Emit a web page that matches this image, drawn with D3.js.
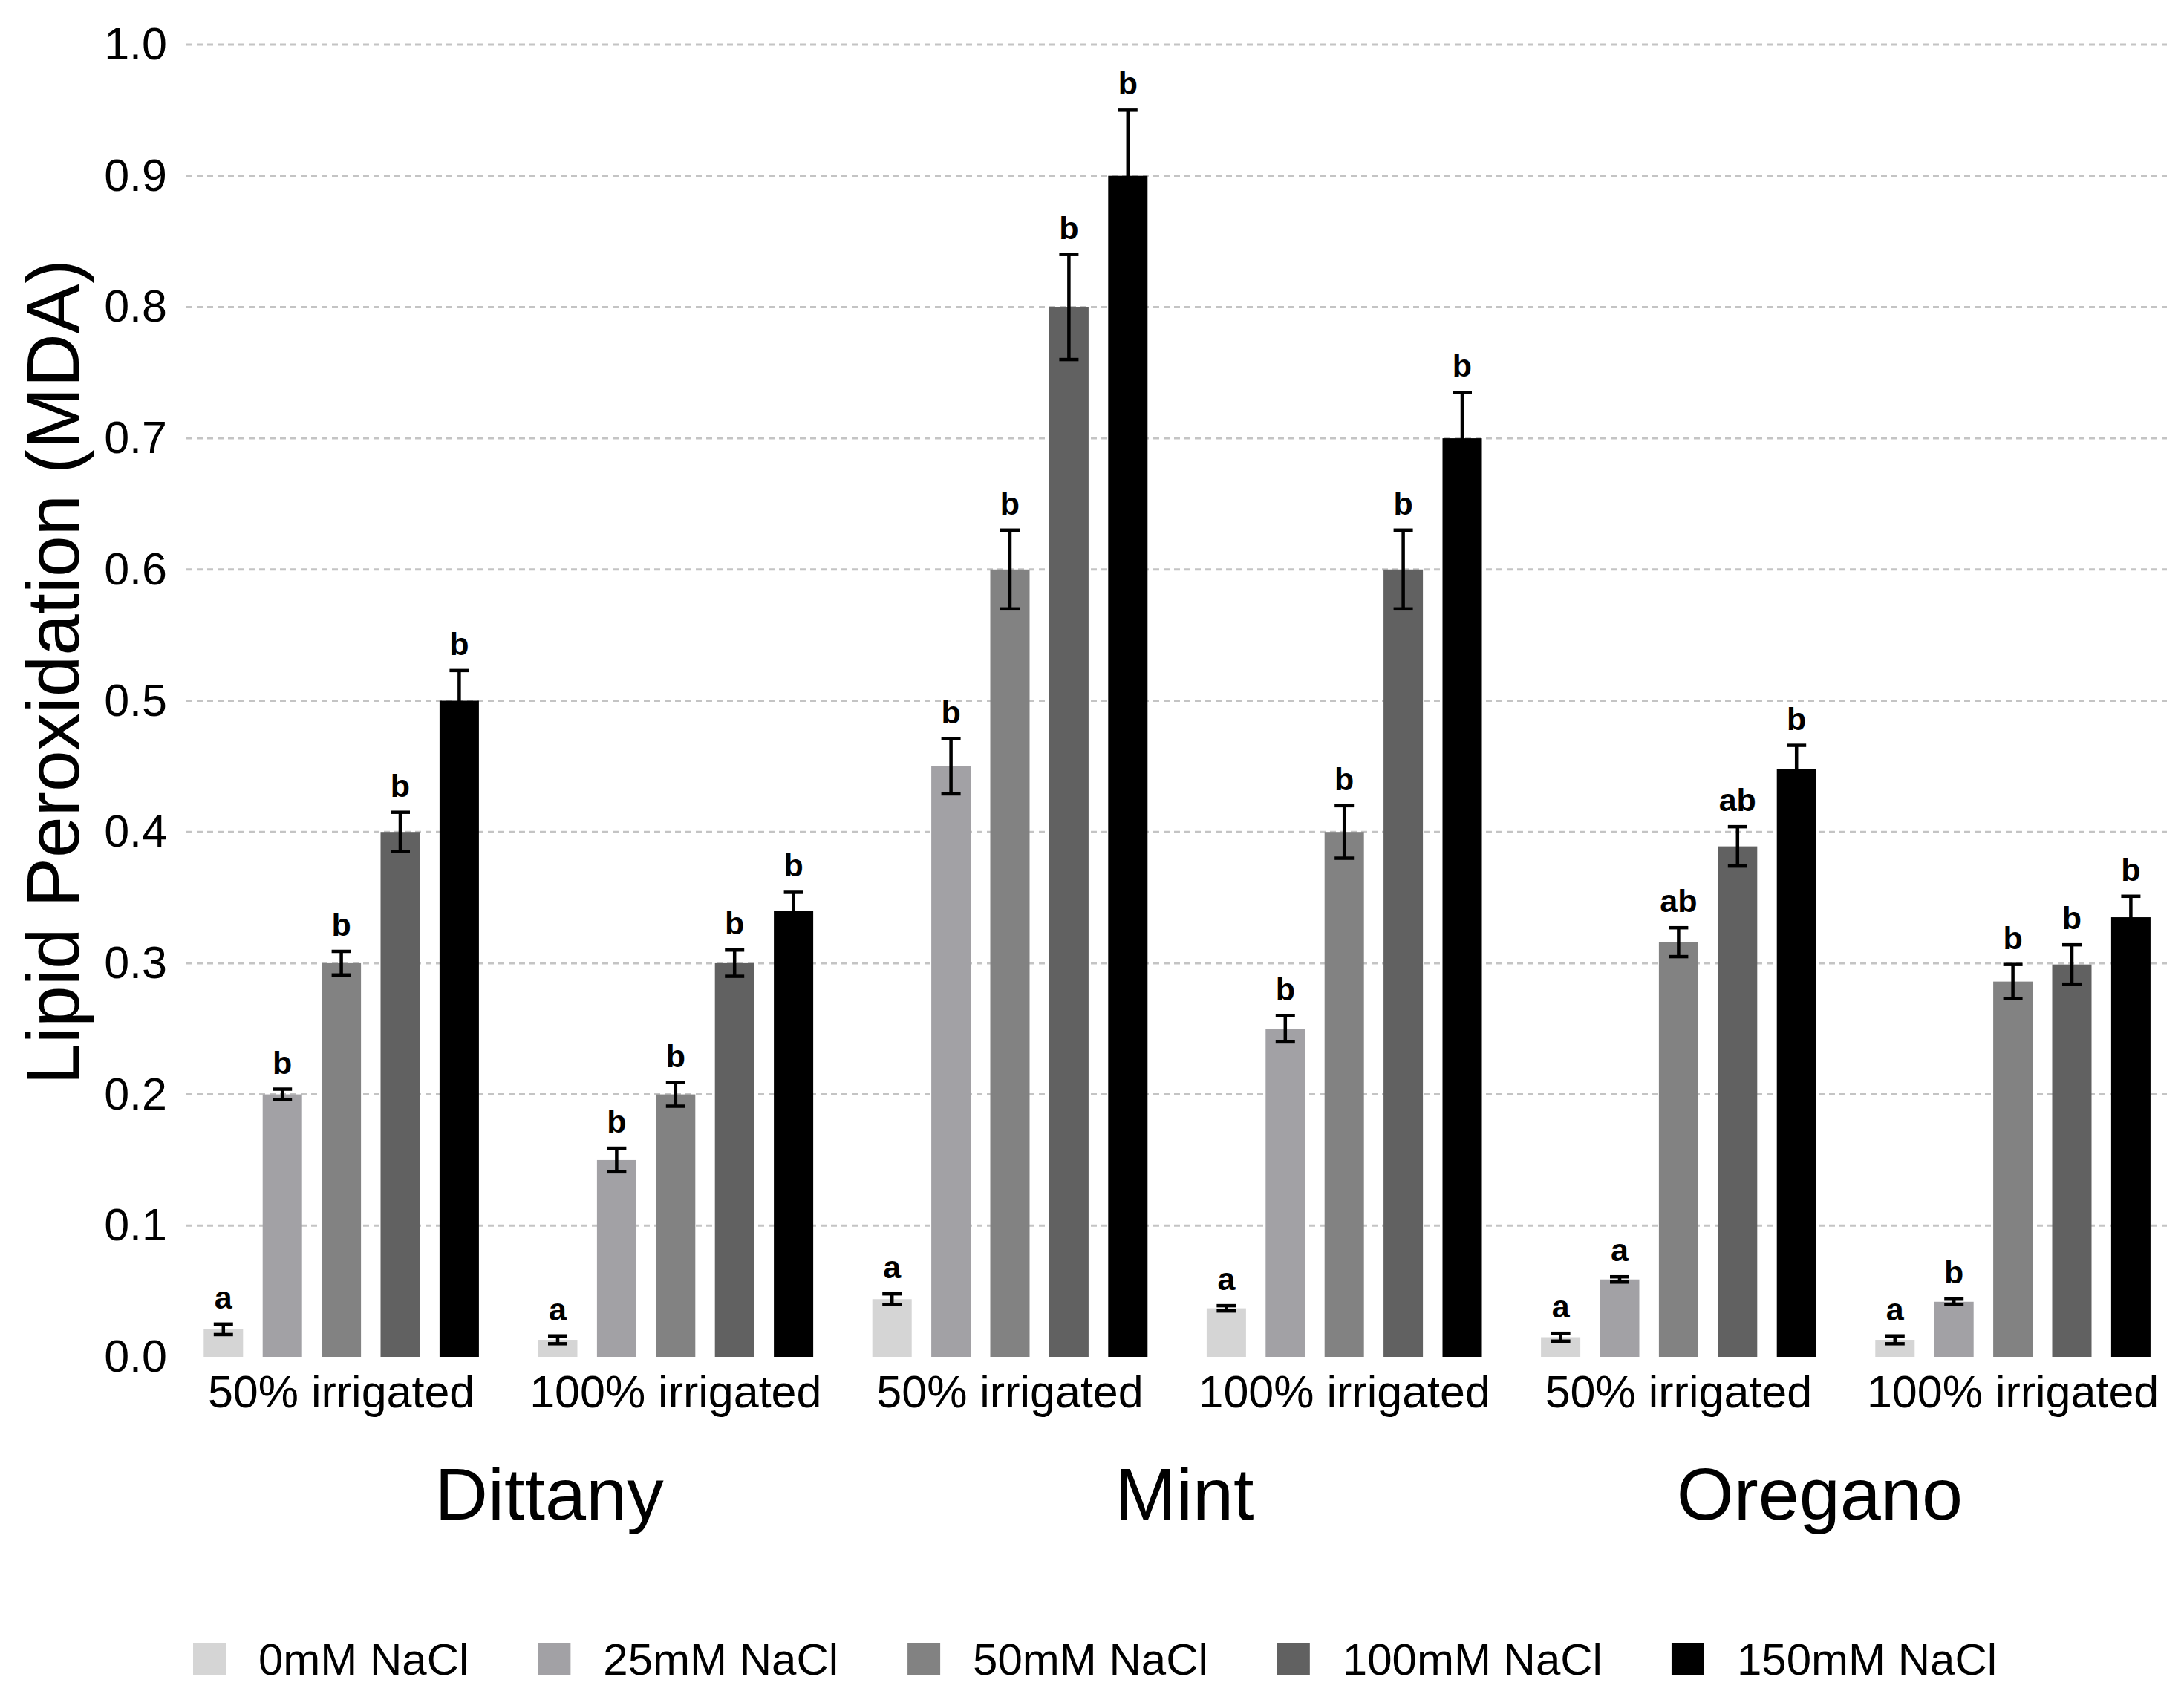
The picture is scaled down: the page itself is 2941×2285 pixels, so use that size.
<!DOCTYPE html>
<html>
<head>
<meta charset="utf-8">
<script src="https://cdn.jsdelivr.net/npm/d3@7"></script>
<style>
  body { margin: 0; background: #fff; }
  text { font-family: "Liberation Sans", Arial, Helvetica, sans-serif; }
</style>
</head>
<body>
<svg class="mda-chart"></svg>
<script>
"use strict";

// data
var species = ['Dittany', 'Mint', 'Oregano'];
var irrigation = ['50% irrigated', '100% irrigated'];
var salts = ['0mM NaCl', '25mM NaCl', '50mM NaCl', '100mM NaCl', '150mM NaCl'];
var saltColors = ['#d5d5d5', '#a2a1a5', '#828282', '#616161', '#000000'];
var yTicks = [0, 0.1, 0.2, 0.3, 0.4, 0.5, 0.6, 0.7, 0.8, 0.9, 1.0];

// one row per species x irrigation, in salts order
var meanValues = [
  [0.021, 0.200, 0.300, 0.400, 0.500],
  [0.013, 0.150, 0.200, 0.300, 0.340],
  [0.044, 0.450, 0.600, 0.800, 0.900],
  [0.037, 0.250, 0.400, 0.600, 0.700],
  [0.015, 0.059, 0.316, 0.389, 0.448],
  [0.013, 0.042, 0.286, 0.299, 0.335]
];
var errorValues = [
  [0.004, 0.004, 0.009, 0.015, 0.023],
  [0.003, 0.009, 0.009, 0.010, 0.014],
  [0.004, 0.021, 0.030, 0.040, 0.050],
  [0.002, 0.010, 0.020, 0.030, 0.035],
  [0.003, 0.002, 0.011, 0.015, 0.018],
  [0.003, 0.002, 0.013, 0.015, 0.016]
];
var letterLabels = [
  ['a', 'b', 'b', 'b', 'b'],
  ['a', 'b', 'b', 'b', 'b'],
  ['a', 'b', 'b', 'b', 'b'],
  ['a', 'b', 'b', 'b', 'b'],
  ['a', 'a', 'ab', 'ab', 'b'],
  ['a', 'b', 'b', 'b', 'b']
];

var W = 2941, H = 2285;
var svg = d3.select('.mda-chart')
  .attr('width', W)
  .attr('height', H);

// group keys like "Dittany|50% irrigated"
var groups = [];
species.forEach(function(s){
  irrigation.forEach(function(ir){ groups.push(s + '|' + ir); });
});

var rows = [];
groups.forEach(function(g, gi){
  salts.forEach(function(salt, si){
    rows.push({
      group: g,
      salt: salt,
      value: meanValues[gi][si],
      err: errorValues[gi][si],
      letter: letterLabels[gi][si]
    });
  });
});

var y = d3.scaleLinear()
  .domain([0, 1])
  .range([1827, 60]);

var x0 = d3.scaleBand()
  .domain(groups)
  .range([234.5, 2935.7])
  .paddingInner(0.1768)
  .paddingOuter(0.0884);

var x1 = d3.scaleBand()
  .domain(salts)
  .range([0, x0.bandwidth()])
  .paddingInner(0.3325);

var xSpecies = d3.scaleBand()
  .domain(species)
  .range([312, 2878]);

var color = d3.scaleOrdinal()
  .domain(salts)
  .range(saltColors);

var gridLeft = 251, gridRight = 2918;

// dashed grid, none at zero
svg.append('g').selectAll('line')
  .data(yTicks.filter(function(t){ return t > 0; }))
  .enter().append('line')
    .attr('x1', gridLeft)
    .attr('x2', gridRight)
    .attr('y1', function(d){ return y(d); })
    .attr('y2', function(d){ return y(d); })
    .attr('stroke', '#c4c4c4')
    .attr('stroke-width', 3)
    .attr('stroke-dasharray', '8,6');

var yAxis = d3.axisLeft(y)
  .tickValues(yTicks)
  .tickFormat(d3.format('.1f'))
  .tickSize(0)
  .tickPadding(26);

svg.append('g')
  .attr('class', 'y-axis')
  .attr('transform', 'translate(' + gridLeft + ',0)')
  .call(yAxis);

svg.select('.y-axis .domain').remove();
svg.selectAll('.y-axis text')
  .attr('font-size', 61)
  .attr('fill', '#000')
  .style('font-family', '"Liberation Sans", Arial, sans-serif');

svg.append('text')
  .attr('transform', 'translate(106,905) rotate(-90)')
  .attr('text-anchor', 'middle')
  .attr('font-size', 100)
  .text('Lipid Peroxidation (MDA)');

var chart = svg.append('g');

chart.selectAll('.bar')
  .data(rows)
  .enter().append('rect')
    .attr('class', 'bar')
    .attr('x', function(d){ return x0(d.group) + x1(d.salt); })
    .attr('y', function(d){ return y(d.value); })
    .attr('width', x1.bandwidth())
    .attr('height', function(d){ return y(0) - y(d.value); })
    .style('fill', function(d){ return color(d.salt); });

var capHalf = 13;
var errs = chart.selectAll('.err')
  .data(rows)
  .enter().append('g')
    .attr('class', 'err')
    .attr('transform', function(d){
      return 'translate(' + (x0(d.group) + x1(d.salt) + x1.bandwidth() / 2) + ',0)';
    });

errs.append('line')
  .attr('y1', function(d){ return y(d.value + d.err); })
  .attr('y2', function(d){ return y(d.value - d.err); });
errs.append('line')
  .attr('x1', -capHalf).attr('x2', capHalf)
  .attr('y1', function(d){ return y(d.value + d.err); })
  .attr('y2', function(d){ return y(d.value + d.err); });
errs.append('line')
  .attr('x1', -capHalf).attr('x2', capHalf)
  .attr('y1', function(d){ return y(d.value - d.err); })
  .attr('y2', function(d){ return y(d.value - d.err); });
errs.selectAll('line')
  .attr('stroke', '#000')
  .attr('stroke-width', 4.5);

errs.append('text')
  .attr('y', function(d){ return y(d.value + d.err) - 21; })
  .attr('text-anchor', 'middle')
  .attr('font-size', 43)
  .attr('font-weight', 'bold')
  .text(function(d){ return d.letter; });

// irrigation labels under each group
svg.append('g').selectAll('text')
  .data(groups)
  .enter().append('text')
    .attr('x', function(d){ return x0(d) + x0.bandwidth() / 2; })
    .attr('y', 1895)
    .attr('text-anchor', 'middle')
    .attr('font-size', 61)
    .text(function(d){ return d.split('|')[1]; });

svg.append('g').selectAll('text')
  .data(species)
  .enter().append('text')
    .attr('x', function(d){ return xSpecies(d) + xSpecies.bandwidth() / 2; })
    .attr('y', 2046)
    .attr('text-anchor', 'middle')
    .attr('font-size', 99)
    .text(function(d){ return d; });

// legend, laid out left to right
var legend = svg.append('g');
var lx = 260, keySize = 44;
salts.forEach(function(s){
  var item = legend.append('g').attr('transform', 'translate(' + lx + ',2212)');
  item.append('rect')
    .attr('width', keySize)
    .attr('height', keySize)
    .style('fill', color(s));
  var t = item.append('text')
    .attr('x', 88)
    .attr('y', 43)
    .attr('font-size', 60)
    .text(s);
  lx += 88 + t.node().getComputedTextLength() + 93;
});
</script>
</body>
</html>
